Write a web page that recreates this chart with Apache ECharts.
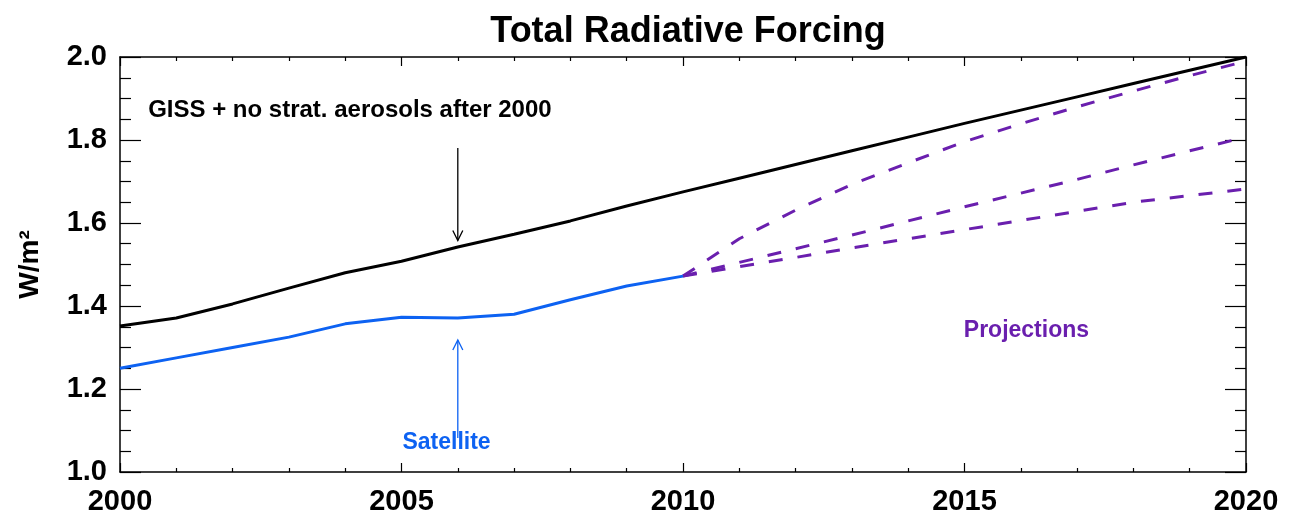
<!DOCTYPE html>
<html>
<head>
<meta charset="utf-8">
<script src="https://cdn.jsdelivr.net/npm/echarts@6/dist/echarts.min.js"></script>
<style>
  html, body { margin: 0; padding: 0; background: #fff; }
  #chart { width: 1289px; height: 523px; }
</style>
</head>
<body>
<div id="chart"></div>
<script>
// Total radiative forcing (W/m^2), 2000-2020
const years = [2000, 2001, 2002, 2003, 2004, 2005, 2006, 2007, 2008, 2009, 2010,
               2011, 2012, 2013, 2014, 2015, 2016, 2017, 2018, 2019, 2020];
const giss = [1.352, 1.371, 1.405, 1.443, 1.480, 1.508, 1.542, 1.573, 1.605, 1.641, 1.675,
              1.708, 1.741, 1.774, 1.807, 1.840, 1.872, 1.904, 1.936, 1.968, 2.000];

const satYears = [2000, 2001, 2002, 2003, 2004, 2005, 2006, 2007, 2008, 2009, 2010];
const satellite = [1.250, 1.275, 1.300, 1.325, 1.357, 1.373, 1.371, 1.380, 1.415, 1.448, 1.472];

const projYears = [2010, 2011, 2012, 2013, 2014, 2015, 2016, 2017, 2018, 2019, 2020];
const projHigh = [1.472, 1.562, 1.631, 1.693, 1.745, 1.796, 1.839, 1.880, 1.918, 1.955, 1.990];
const projMid  = [1.472, 1.505, 1.538, 1.571, 1.605, 1.639, 1.672, 1.705, 1.740, 1.774, 1.807];
const projLow  = [1.472, 1.495, 1.517, 1.540, 1.562, 1.584, 1.606, 1.628, 1.650, 1.666, 1.682];

const xTickLabels = ['2000', '2005', '2010', '2015', '2020'];
const yTickLabels = ['1.0', '1.2', '1.4', '1.6', '1.8', '2.0'];

// annotation arrows: [x, yFrom, yTo]
const gissArrow = [2006, 1.781, 1.558];
const satArrow = [2006, 1.082, 1.318];

const FONT = 'Liberation Sans, Arial, sans-serif';
const BLUE = '#0d62f2';
const PURPLE = '#6a1fae';

const pairs = (xs, ys) => xs.map((x, i) => [x, ys[i]]);

const xLabelFmt = v => {
  const i = xTickLabels.indexOf(String(v));
  return i >= 0 ? xTickLabels[i] : '';
};
const yLabelFmt = v => {
  const s = v.toFixed(1);
  return yTickLabels.indexOf(s) >= 0 ? s : '';
};

function xAxisDef(pos, showLabel) {
  return {
    type: 'value', position: pos, min: 2000, max: 2020, interval: 5,
    axisLine: { show: true, onZero: false, lineStyle: { color: '#000', width: 1.5 } },
    axisTick: { show: true, inside: true, length: 9, lineStyle: { color: '#000', width: 1.2 } },
    minorTick: { show: true, splitNumber: 5, length: 4, lineStyle: { color: '#000', width: 1.2 } },
    splitLine: { show: false },
    axisLabel: {
      show: showLabel, formatter: xLabelFmt, margin: 15,
      fontFamily: FONT, fontWeight: 'bold', fontSize: 29, color: '#000'
    }
  };
}

function yAxisDef(pos, showLabel) {
  return {
    type: 'value', position: pos, min: 1.0, max: 2.0, interval: 0.2,
    name: showLabel ? 'W/m²' : '',
    nameLocation: 'middle', nameGap: 76, nameRotate: 90,
    nameTextStyle: { fontFamily: FONT, fontWeight: 'bold', fontSize: 28, color: '#000' },
    axisLine: { show: true, onZero: false, lineStyle: { color: '#000', width: 1.5 } },
    axisTick: { show: true, inside: true, length: 21, lineStyle: { color: '#000', width: 1.2 } },
    minorTick: { show: true, splitNumber: 4, length: 11, lineStyle: { color: '#000', width: 1.2 } },
    splitLine: { show: false },
    axisLabel: {
      show: showLabel, formatter: yLabelFmt, margin: 13,
      fontFamily: FONT, fontWeight: 'bold', fontSize: 29, color: '#000'
    }
  };
}

// vertical arrow with an open V head at the "to" end
function arrowSeries(arrow, color) {
  return {
    type: 'custom', xAxisIndex: 0, yAxisIndex: 0, silent: true, z: 5,
    data: [arrow],
    renderItem: (params, api) => {
      const p0 = api.coord([api.value(0), api.value(1)]);
      const p1 = api.coord([api.value(0), api.value(2)]);
      const dir = p1[1] < p0[1] ? 1 : -1; // head pointing up => +1 offsets downward
      const hw = 5, hh = 10;
      return {
        type: 'group',
        children: [
          { type: 'line', shape: { x1: p0[0], y1: p0[1], x2: p1[0], y2: p1[1] },
            style: { stroke: color, lineWidth: 1.3 } },
          { type: 'polyline',
            shape: { points: [[p1[0] - hw, p1[1] + dir * hh], [p1[0], p1[1]], [p1[0] + hw, p1[1] + dir * hh]] },
            style: { stroke: color, lineWidth: 1.3, fill: null } }
        ]
      };
    }
  };
}

// text note anchored at a data position
function noteSeries(x, y, text, color, size, align) {
  return {
    type: 'custom', xAxisIndex: 0, yAxisIndex: 0, silent: true, z: 6,
    data: [[x, y]],
    renderItem: (params, api) => {
      const p = api.coord([api.value(0), api.value(1)]);
      return {
        type: 'text',
        style: {
          x: p[0], y: p[1], text: text, fill: color,
          font: 'bold ' + size + 'px ' + FONT,
          align: align, verticalAlign: 'middle'
        }
      };
    }
  };
}

const chart = echarts.init(document.getElementById('chart'), null, { renderer: 'canvas' });
chart.setOption({
  animation: false,
  backgroundColor: '#fff',
  title: {
    text: 'Total Radiative Forcing', left: 683, top: 9, textAlign: 'center',
    textStyle: { fontFamily: FONT, fontWeight: 'bold', fontSize: 36, color: '#000' }
  },
  grid: { left: 120, right: 43, top: 57, bottom: 51, containLabel: false },
  xAxis: [xAxisDef('bottom', true), xAxisDef('top', false)],
  yAxis: [yAxisDef('left', true), yAxisDef('right', false)],
  series: [
    { name: 'GISS', type: 'line', data: pairs(years, giss), showSymbol: false,
      lineStyle: { color: '#000', width: 3 }, z: 3 },
    { name: 'Projection high', type: 'line', data: pairs(projYears, projHigh), showSymbol: false,
      lineStyle: { color: PURPLE, width: 3, type: [14, 15] }, z: 2 },
    { name: 'Projection mid', type: 'line', data: pairs(projYears, projMid), showSymbol: false,
      lineStyle: { color: PURPLE, width: 3, type: [14, 15] }, z: 2 },
    { name: 'Projection low', type: 'line', data: pairs(projYears, projLow), showSymbol: false,
      lineStyle: { color: PURPLE, width: 3, type: [14, 15] }, z: 2 },
    { name: 'Satellite', type: 'line', data: pairs(satYears, satellite), showSymbol: false,
      lineStyle: { color: BLUE, width: 3 }, z: 4 },
    arrowSeries(gissArrow, '#000'),
    arrowSeries(satArrow, BLUE),
    noteSeries(2000.5, 1.872, 'GISS + no strat. aerosols after 2000', '#000', 24, 'left'),
    noteSeries(2005.8, 1.07, 'Satellite', BLUE, 23, 'center'),
    noteSeries(2016.1, 1.34, 'Projections', PURPLE, 23, 'center')
  ]
});
</script>
</body>
</html>
